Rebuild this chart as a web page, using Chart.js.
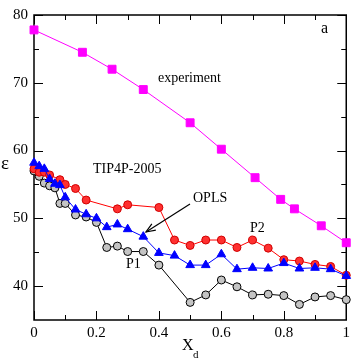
<!DOCTYPE html>
<html>
<head>
<meta charset="utf-8">
<script src="https://cdn.jsdelivr.net/npm/chart.js@4/dist/chart.umd.min.js"></script>
<style>
  html, body { margin: 0; padding: 0; background: #fff; }
  #wrap { width: 354px; height: 361px; }
</style>
</head>
<body>
<div id="wrap"><canvas id="chart"></canvas></div>
<script>
// experiment
const expX = [0, 0.155, 0.25, 0.35, 0.5, 0.6, 0.708, 0.79, 0.834, 0.92, 1.0];
const expY = [77.8, 74.5, 72.0, 69.0, 64.1, 60.2, 56.0, 52.8, 51.4, 48.9, 46.4];

// P2 (red circles)
const p2X = [0, 0.0167, 0.033, 0.05, 0.083, 0.1, 0.133, 0.167, 0.267, 0.3, 0.4, 0.45,
  0.5, 0.55, 0.6, 0.65, 0.7, 0.75, 0.8, 0.85, 0.9, 0.95, 1.0];
const p2Y = [57.3, 56.8, 56.8, 56.4, 55.7, 55.0, 54.4, 52.7, 51.4, 52.0, 51.6, 46.8,
  46.0, 46.8, 46.8, 45.7, 46.8, 45.6, 43.9, 43.7, 43.2, 42.9, 41.6];

// OPLS (blue triangles)
const oplsX = [0, 0.0167, 0.033, 0.05, 0.067, 0.083, 0.1, 0.133, 0.167, 0.2, 0.233, 0.267,
  0.3, 0.35, 0.4, 0.45, 0.5, 0.55, 0.6, 0.65, 0.7, 0.75, 0.8, 0.85, 0.9, 0.95, 1.0];
const oplsY = [58.2, 57.7, 57.3, 55.8, 55.1, 54.9, 53.1, 51.3, 50.6, 50.0, 48.7, 49.1,
  48.4, 47.3, 44.9, 44.5, 43.1, 43.1, 44.7, 42.5, 42.7, 42.6, 43.4, 42.6, 42.7, 42.5, 41.5];

// P1 (grey circles)
const p1X = [0, 0.0167, 0.033, 0.05, 0.067, 0.083, 0.1, 0.133, 0.167, 0.2, 0.233, 0.267,
  0.3, 0.35, 0.4, 0.5, 0.55, 0.6, 0.65, 0.7, 0.75, 0.8, 0.85, 0.9, 0.95, 1.0];
const p1Y = [57.0, 56.2, 55.2, 54.8, 54.5, 52.2, 52.2, 50.5, 50.2, 49.4, 45.7, 45.9,
  45.1, 45.1, 43.1, 37.6, 38.7, 40.9, 39.9, 38.7, 38.8, 38.6, 37.3, 38.4, 38.6, 38.0];

const xTicks = [0, 0.2, 0.4, 0.6, 0.8, 1];
const xMinor = [0.1, 0.3, 0.5, 0.7, 0.9];
const yTicks = [40, 50, 60, 70, 80];
const yMinor = [45, 55, 65, 75];

const SERIF = '"Liberation Serif", "DejaVu Serif", serif';

function toPoints(xs, ys) {
  return xs.map((x, i) => ({ x, y: ys[i] }));
}

function formatX(value) {
  return value === 0 || value === 1 ? String(value) : value.toFixed(1);
}

const frameAndTicks = {
  id: 'frameAndTicks',
  beforeDatasetsDraw(chart) {
    const { ctx, chartArea: a, scales: { x, y } } = chart;
    ctx.save();
    ctx.strokeStyle = '#000';
    ctx.lineWidth = 1;
    ctx.beginPath();
    const xt = (vals, len) => vals.forEach(v => {
      const px = Math.round(x.getPixelForValue(v)) + 0.5;
      ctx.moveTo(px, a.bottom); ctx.lineTo(px, a.bottom - len);
      ctx.moveTo(px, a.top); ctx.lineTo(px, a.top + len);
    });
    const yt = (vals, len) => vals.forEach(v => {
      const py = Math.round(y.getPixelForValue(v)) + 0.5;
      ctx.moveTo(a.left, py); ctx.lineTo(a.left + len, py);
      ctx.moveTo(a.right, py); ctx.lineTo(a.right - len, py);
    });
    xt(xTicks, 9);
    xt(xMinor, 5);
    yt(yTicks, 9);
    yt(yMinor, 5);
    ctx.stroke();
    ctx.lineWidth = 1.5;
    ctx.strokeRect(a.left, a.top, a.right - a.left, a.bottom - a.top);
    ctx.restore();
  },
  afterDatasetsDraw(chart) {
    const { ctx } = chart;
    ctx.save();
    ctx.fillStyle = '#000';
    ctx.textBaseline = 'middle';
    ctx.textAlign = 'left';
    ctx.font = `14px ${SERIF}`;
    ctx.fillText('experiment', 158, 78);
    ctx.fillText('TIP4P-2005', 93, 169);
    ctx.fillText('OPLS', 193, 198);
    ctx.fillText('P2', 250, 228);
    ctx.fillText('P1', 126, 264);
    ctx.font = `16px ${SERIF}`;
    ctx.fillText('a', 321, 29);
    ctx.font = `19px ${SERIF}`;
    ctx.fillText('\u03b5', 1, 164);
    ctx.font = `16px ${SERIF}`;
    ctx.fillText('X', 182, 346);
    ctx.font = `11px ${SERIF}`;
    ctx.fillText('d', 193, 355);

    // arrow pointing to OPLS
    const x0 = 190, y0 = 204, x1 = 146, y1 = 232;
    ctx.strokeStyle = '#000';
    ctx.lineWidth = 1.2;
    ctx.beginPath();
    ctx.moveTo(x0, y0);
    ctx.lineTo(x1, y1);
    ctx.stroke();
    const ang = Math.atan2(y1 - y0, x1 - x0);
    const hl = 10, hw = 0.38;
    ctx.beginPath();
    ctx.moveTo(x1 - hl * Math.cos(ang - hw), y1 - hl * Math.sin(ang - hw));
    ctx.lineTo(x1, y1);
    ctx.lineTo(x1 - hl * Math.cos(ang + hw), y1 - hl * Math.sin(ang + hw));
    ctx.stroke();
    ctx.restore();
  },
};

const ctx = document.getElementById('chart').getContext('2d');

new Chart(ctx, {
  type: 'line',
  data: {
    datasets: [
      {
        label: 'P1',
        data: toPoints(p1X, p1Y),
        borderColor: '#000',
        borderWidth: 1,
        pointStyle: 'circle',
        pointRadius: 4,
        pointBackgroundColor: '#c4c4c4',
        pointBorderColor: '#000',
        pointBorderWidth: 1,
        order: 4,
      },
      {
        label: 'P2',
        data: toPoints(p2X, p2Y),
        borderColor: '#ff0000',
        borderWidth: 1,
        pointStyle: 'circle',
        pointRadius: 4,
        pointBackgroundColor: '#ff3030',
        pointBorderColor: '#d00000',
        pointBorderWidth: 1,
        order: 3,
      },
      {
        label: 'OPLS',
        data: toPoints(oplsX, oplsY),
        borderColor: '#0000ff',
        borderWidth: 1,
        pointStyle: 'triangle',
        pointRadius: 5,
        pointBackgroundColor: '#0000ff',
        pointBorderColor: '#0000ff',
        pointBorderWidth: 1,
        order: 2,
      },
      {
        label: 'experiment',
        data: toPoints(expX, expY),
        borderColor: '#ff00ff',
        borderWidth: 1,
        pointStyle: 'rect',
        pointRadius: 5.6,
        pointBackgroundColor: '#ff00ff',
        pointBorderColor: '#ff00ff',
        pointBorderWidth: 1,
        order: 1,
      },
    ],
  },
  options: {
    responsive: true,
    maintainAspectRatio: false,
    animation: false,
    clip: false,
    layout: { padding: { top: 6, right: 7, left: 0, bottom: 0 } },
    plugins: {
      legend: { display: false },
      tooltip: { enabled: false },
    },
    elements: { line: { tension: 0 } },
    scales: {
      x: {
        type: 'linear',
        min: 0,
        max: 1,
        afterBuildTicks: scale => { scale.ticks = xTicks.map(value => ({ value })); },
        afterFit: scale => { scale.height = 41; },
        grid: { display: false, drawTicks: false },
        border: { display: false },
        ticks: {
          color: '#000',
          padding: 4,
          maxRotation: 0,
          font: { family: SERIF, size: 15 },
          callback: value => formatX(value),
        },
      },
      y: {
        type: 'linear',
        min: 35,
        max: 80,
        afterBuildTicks: scale => { scale.ticks = yTicks.map(value => ({ value })); },
        afterFit: scale => { scale.width = 34; },
        grid: { display: false, drawTicks: false },
        border: { display: false },
        ticks: {
          color: '#000',
          padding: 6,
          font: { family: SERIF, size: 15 },
        },
      },
    },
  },
  plugins: [frameAndTicks],
});
</script>
</body>
</html>
